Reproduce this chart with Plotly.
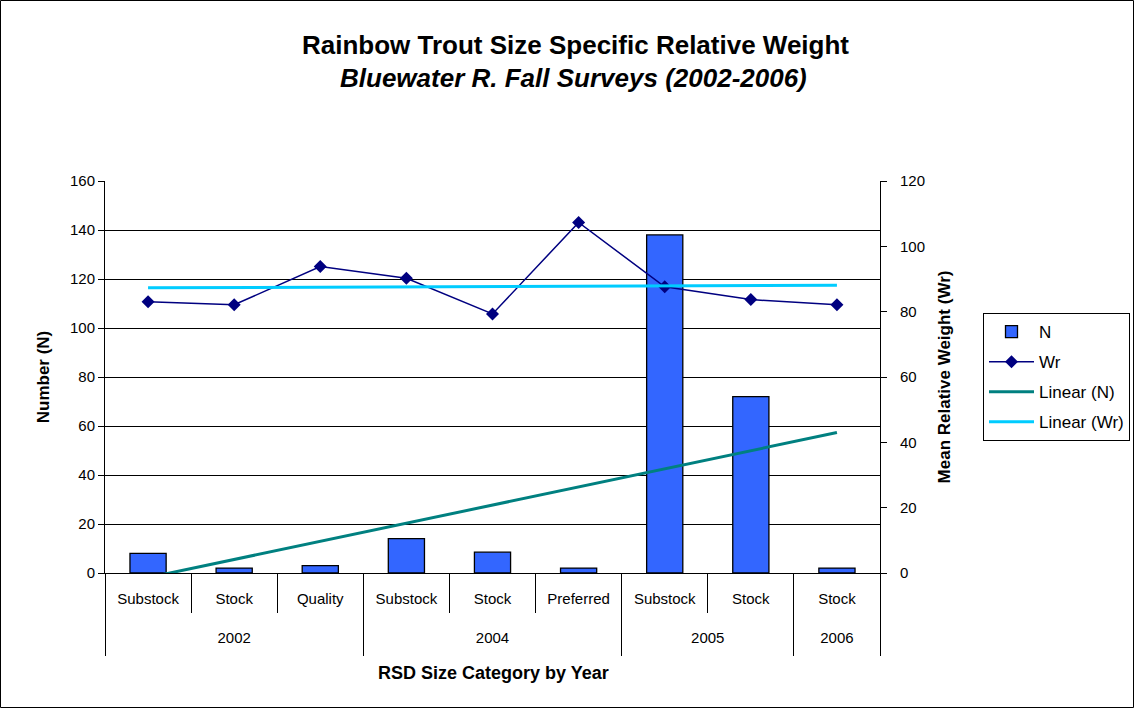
import numpy as np
import plotly.graph_objects as go

years = ["2002", "2002", "2002", "2004", "2004", "2004", "2005", "2005", "2006"]
categories = ["Substock", "Stock", "Quality", "Substock", "Stock", "Preferred", "Substock", "Stock", "Stock"]
n_values = [8, 2, 3, 14, 8.5, 2, 138, 72, 2]
wr_values = [83.0, 82.1, 93.8, 90.2, 79.3, 107.3, 87.6, 83.7, 82.1]
left_ticks = [0, 20, 40, 60, 80, 100, 120, 140, 160]
right_ticks = [0, 20, 40, 60, 80, 100, 120]

FONT = "Liberation Sans, Arial, sans-serif"
L, R, T, B = 105, 255, 181, 136
W, H = 1135, 709
PW, PH = W - L - R, H - T - B

x_pos = np.arange(len(categories))
idx = x_pos + 1
trend_n = np.polyval(np.polyfit(idx, n_values, 1), idx)
trend_w = np.polyval(np.polyfit(idx, wr_values, 1), idx)

# category / year boundaries derived from the data
all_bounds = [i - 0.5 for i in range(len(categories) + 1)]
group_bounds = [-0.5] + [i + 0.5 for i in range(len(years) - 1) if years[i] != years[i + 1]] + [len(years) - 0.5]
inner_bounds = [b for b in all_bounds if b not in group_bounds]
year_labels = []
year_centers = []
for y in dict.fromkeys(years):
    pos = [i for i, yy in enumerate(years) if yy == y]
    year_labels.append(y)
    year_centers.append(float(np.mean(pos)))

xr = [-0.5, len(categories) - 0.5]

fig = go.Figure()
fig.add_trace(go.Bar(x=x_pos, y=n_values, name="N", legendgroup="a",
                     marker=dict(color="#3366FF", line=dict(color="black", width=1.3)),
                     yaxis="y"))
fig.add_trace(go.Scatter(x=x_pos, y=wr_values, name="Wr", mode="lines+markers", legendgroup="b",
                         line=dict(color="#000080", width=1.5),
                         marker=dict(symbol="diamond", size=10, color="#000080"),
                         yaxis="y2"))
fig.add_trace(go.Scatter(x=x_pos, y=trend_n, name="Linear (N)", mode="lines", legendgroup="c",
                         line=dict(color="#008080", width=3), yaxis="y"))
fig.add_trace(go.Scatter(x=x_pos, y=trend_w, name="Linear (Wr)", mode="lines", legendgroup="d",
                         line=dict(color="#00CCFF", width=3), yaxis="y2"))
# invisible carriers so the overlaid category axes get drawn
for ax in ["x2", "x3", "x4"]:
    fig.add_trace(go.Scatter(x=xr, y=[None, None], xaxis=ax, yaxis="y", mode="lines",
                             showlegend=False, hoverinfo="skip"))

common_x = dict(range=xr, showgrid=False, zeroline=False, automargin=False, fixedrange=True)

fig.update_layout(
    width=W, height=H,
    paper_bgcolor="white", plot_bgcolor="white",
    font=dict(family=FONT, size=15, color="black"),
    margin=dict(l=L, r=R, t=T, b=B, autoexpand=False),
    bargap=0.58,
    showlegend=True,
    title=dict(text="<b>Rainbow Trout Size Specific Relative Weight</b>",
               x=(575.5) / W, xanchor="center", y=1 - 45 / H, yanchor="middle",
               font=dict(family=FONT, size=26, color="black"), automargin=False),
    annotations=[
        dict(text="<b><i>Bluewater R. Fall Surveys (2002-2006)</i></b>",
             xref="paper", yref="paper", x=(573.5 - L) / PW,
             y=(H - B - 78) / PH, xanchor="center", yanchor="middle",
             showarrow=False, font=dict(family=FONT, size=26, color="black")),
        dict(text="<b>RSD Size Category by Year</b>",
             xref="paper", yref="paper", x=(493.5 - L) / PW,
             y=(H - B - 673) / PH, xanchor="center", yanchor="middle",
             showarrow=False, font=dict(family=FONT, size=18, color="black")),
    ],
    legend=dict(xref="container", yref="container", x=983 / W, y=1 - 313 / H,
                xanchor="left", yanchor="top",
                bordercolor="black", borderwidth=1, bgcolor="white",
                font=dict(family=FONT, size=17), tracegroupgap=5, itemwidth=45),
    xaxis=dict(**common_x, tickvals=list(x_pos), ticktext=categories, ticks="",
               showline=True, linecolor="black", linewidth=1,
               tickfont=dict(family=FONT, size=15), ticklabelstandoff=12),
    xaxis2=dict(**common_x, overlaying="x", anchor="y", side="bottom",
                tickvals=inner_bounds, ticks="outside", ticklen=39, tickcolor="black",
                tickwidth=1, showticklabels=False, showline=False),
    xaxis3=dict(**common_x, overlaying="x", anchor="y", side="bottom",
                tickvals=group_bounds, ticks="outside", ticklen=82, tickcolor="black",
                tickwidth=1, showticklabels=False, showline=False),
    xaxis4=dict(**common_x, overlaying="x", anchor="y", side="bottom",
                tickvals=year_centers, ticktext=year_labels, ticks="", showline=False,
                tickfont=dict(family=FONT, size=15), ticklabelstandoff=54),
    yaxis=dict(range=[0, 160], tickvals=left_ticks, showline=True, linecolor="black",
               linewidth=1, ticks="outside", ticklen=6, tickcolor="black",
               showgrid=True, gridcolor="black", gridwidth=1, zeroline=False, automargin=False,
               tickfont=dict(family=FONT, size=15),
               title=dict(text="<b>Number (N)</b>", font=dict(family=FONT, size=17), standoff=16)),
    yaxis2=dict(range=[0, 120], tickvals=right_ticks, overlaying="y", side="right",
                showline=True, linecolor="black", linewidth=1, ticks="outside", ticklen=6,
                tickcolor="black", showgrid=False, zeroline=False, automargin=False,
                tickfont=dict(family=FONT, size=15), ticklabelstandoff=10,
                title=dict(text="<b>Mean Relative Weight (Wr)</b>",
                           font=dict(family=FONT, size=17), standoff=14)),
    shapes=[dict(type="rect", xref="paper", yref="paper",
                 x0=(0.5 - L) / PW, x1=(W - 1.5 - L) / PW,
                 y0=(H - B - (H - 1.5)) / PH, y1=(H - B - 0.5) / PH,
                 line=dict(color="black", width=1), layer="below")],
)

fig.write_html("out.html", config={"displayModeBar": False},
               post_script="document.body.style.margin='0';document.body.style.overflow='hidden';")
